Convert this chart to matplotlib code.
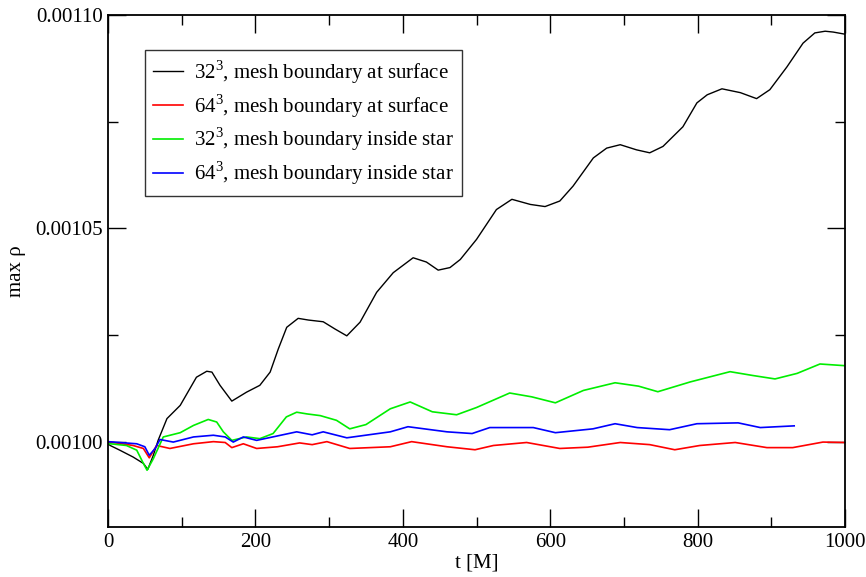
import matplotlib
matplotlib.use('Agg')
import matplotlib.pyplot as plt
from matplotlib.ticker import MultipleLocator, FormatStrFormatter

plt.rcParams['font.family'] = ['Liberation Serif', 'DejaVu Serif']
plt.rcParams['mathtext.fontset'] = 'custom'
plt.rcParams['mathtext.rm'] = 'Liberation Serif'

# 32^3, mesh boundary at surface
t_k = [0, 3, 16, 34, 48, 54, 61.5, 68, 80, 98, 111, 120, 134, 141, 152, 168, 188,
       206, 220, 231, 242.5, 258, 272, 292, 308, 324, 342, 364.5, 387, 414, 432,
       448, 464, 478, 500, 527, 548, 573, 593, 613, 631, 658.5, 676.6, 695, 717,
       735, 753, 780, 799, 813, 833, 858, 880, 898, 921, 943, 959, 973, 984, 1000]
v_k = [0.9995e-3, 0.9991e-3, 0.9980e-3, 0.9964e-3, 0.9949e-3, 0.9935e-3,
       0.9968e-3, 1.0003e-3, 1.0054e-3, 1.0085e-3, 1.0124e-3, 1.0151e-3,
       1.0165e-3, 1.0163e-3, 1.0132e-3, 1.0095e-3, 1.0116e-3, 1.0132e-3,
       1.0163e-3, 1.0217e-3, 1.0268e-3, 1.0289e-3, 1.0285e-3, 1.0281e-3,
       1.0264e-3, 1.0248e-3, 1.0280e-3, 1.0350e-3, 1.0396e-3, 1.0431e-3,
       1.0421e-3, 1.0402e-3, 1.0408e-3, 1.0427e-3, 1.0474e-3, 1.0544e-3,
       1.0568e-3, 1.0556e-3, 1.0551e-3, 1.0564e-3, 1.0599e-3, 1.0665e-3,
       1.0688e-3, 1.0696e-3, 1.0684e-3, 1.0677e-3, 1.0692e-3, 1.0738e-3,
       1.0794e-3, 1.0813e-3, 1.0827e-3, 1.0818e-3, 1.0804e-3, 1.0825e-3,
       1.0878e-3, 1.0934e-3, 1.0958e-3, 1.0962e-3, 1.0960e-3, 1.0955e-3]

# 64^3, mesh boundary at surface
t_r = [0, 34, 48, 56, 66, 84, 116, 143, 159, 168, 183.6, 201.7, 230, 260, 277, 297,
       328, 383, 412, 460, 498, 523, 568, 613, 651, 695, 735, 769, 803, 851, 894,
       929, 970, 1000]
v_r = [1.0e-3, 0.9991e-3, 0.9984e-3, 0.9962e-3, 0.9991e-3, 0.9984e-3, 0.9995e-3,
       1.0e-3, 0.9998e-3, 0.9986e-3, 0.9995e-3, 0.9984e-3, 0.9988e-3, 0.9997e-3,
       0.9993e-3, 1.0e-3, 0.9984e-3, 0.9988e-3, 1.0e-3, 0.9988e-3, 0.9981e-3,
       0.9991e-3, 0.9998e-3, 0.9984e-3, 0.9987e-3, 0.9998e-3, 0.9993e-3,
       0.9981e-3, 0.9991e-3, 0.9998e-3, 0.9986e-3, 0.9986e-3, 0.9999e-3, 0.9998e-3]

# 32^3, mesh boundary inside star
t_g = [0, 3, 25, 39, 48, 53, 61.5, 75, 98, 116, 136, 147.5, 156.5, 168, 188, 206,
       224, 242, 256, 270, 288, 310, 328, 350, 383, 410, 440, 473, 500, 545, 575,
       607, 645, 688, 720, 746, 790, 844, 875, 905, 935, 966, 1000]
v_g = [0.9995e-3, 0.9995e-3, 0.9991e-3, 0.9980e-3, 0.9949e-3, 0.9933e-3,
       0.9960e-3, 1.0011e-3, 1.0021e-3, 1.0038e-3, 1.0052e-3, 1.0046e-3,
       1.0023e-3, 1.0003e-3, 1.0011e-3, 1.0007e-3, 1.0019e-3, 1.0058e-3,
       1.0069e-3, 1.0065e-3, 1.0061e-3, 1.0050e-3, 1.0030e-3, 1.0040e-3,
       1.0077e-3, 1.0093e-3, 1.0070e-3, 1.0063e-3, 1.0080e-3, 1.0114e-3,
       1.0105e-3, 1.0091e-3, 1.0120e-3, 1.0138e-3, 1.0130e-3, 1.0117e-3,
       1.0140e-3, 1.0164e-3, 1.0155e-3, 1.0147e-3, 1.0160e-3, 1.0182e-3, 1.0178e-3]

# 64^3, mesh boundary inside star
t_b = [0, 39, 50, 56, 64, 70.5, 88.6, 116, 143, 159, 170, 183.6, 201.7, 256, 277,
       292, 324, 383, 407, 460, 494, 518, 577, 607, 658, 688, 718, 762, 799, 855,
       885, 931]
v_b = [1.0e-3, 0.9995e-3, 0.9988e-3, 0.9968e-3, 0.9984e-3, 1.0005e-3, 0.9999e-3,
       1.0011e-3, 1.0015e-3, 1.0011e-3, 0.9999e-3, 1.0011e-3, 1.0003e-3,
       1.0023e-3, 1.0016e-3, 1.0023e-3, 1.0009e-3, 1.0023e-3, 1.0035e-3,
       1.0023e-3, 1.0019e-3, 1.0033e-3, 1.0033e-3, 1.0021e-3, 1.0030e-3,
       1.0042e-3, 1.0033e-3, 1.0028e-3, 1.0042e-3, 1.0044e-3, 1.0033e-3, 1.0037e-3]

labels = ['$32^3$, mesh boundary at surface',
          '$64^3$, mesh boundary at surface',
          '$32^3$, mesh boundary inside star',
          '$64^3$, mesh boundary inside star']

fig = plt.figure(figsize=(8.66, 5.77), dpi=100)
ax = fig.add_axes([0.1247, 0.0867, 0.8511, 0.8873])

ax.plot(t_k, v_k, color='black', lw=1.0, label=labels[0])
ax.plot(t_r, v_r, color='red', lw=1.2, label=labels[1])
ax.plot(t_g, v_g, color='#00ee00', lw=1.2, label=labels[2])
ax.plot(t_b, v_b, color='blue', lw=1.2, label=labels[3])

ax.set_xlim(0, 1000)
ax.set_ylim(0.00098, 0.00110)
ax.xaxis.set_major_locator(MultipleLocator(200))
ax.xaxis.set_minor_locator(MultipleLocator(100))
ax.yaxis.set_major_locator(MultipleLocator(0.00005))
ax.yaxis.set_minor_locator(MultipleLocator(0.000025))
ax.yaxis.set_major_formatter(FormatStrFormatter('%.5f'))
ax.tick_params(which='both', direction='in', top=True, right=True, labelsize=15)
ax.tick_params(which='major', length=13, width=1)
ax.tick_params(which='minor', length=7, width=1)
ax.tick_params(axis='x', which='major', pad=4.5)
for s in ax.spines.values():
    s.set_linewidth(1.3)

ax.set_xlabel('t [M]', fontsize=15, labelpad=1)
ax.set_ylabel('max ρ', fontsize=15, labelpad=7)

leg = ax.legend(loc='upper left', bbox_to_anchor=(0.05, 0.932), fontsize=15,
                fancybox=False, framealpha=1, edgecolor='#333333',
                handlelength=1.45, handletextpad=0.5, labelspacing=0.3,
                borderpad=0.4, borderaxespad=0)
leg.get_frame().set_linewidth(1.0)

plt.savefig('out.png', dpi=100)
